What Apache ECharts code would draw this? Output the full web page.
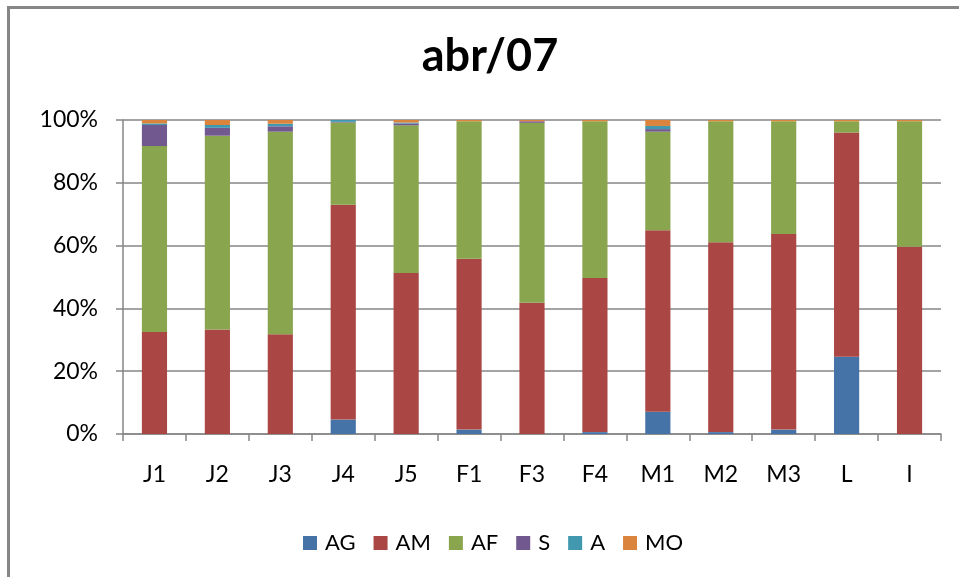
<!DOCTYPE html>
<html>
<head>
<meta charset="utf-8">
<script src="https://cdn.jsdelivr.net/npm/echarts@6/dist/echarts.min.js"></script>
<style>
  html, body { margin: 0; padding: 0; background: #fff; }
  #chart { width: 959px; height: 577px; }
</style>
</head>
<body>
<div id="chart"></div>
<script>
// Monthly composition (percent of total) per sampling point, April 2007
const categories = ['J1', 'J2', 'J3', 'J4', 'J5', 'F1', 'F3', 'F4', 'M1', 'M2', 'M3', 'L', 'I'];
const AG = [0, 0, 0, 4.6, 0, 1.4, 0, 0.6, 7.1, 0.6, 1.4, 24.6, 0];
const AM = [32.5, 33.3, 31.8, 68.4, 51.3, 54.4, 41.8, 49.1, 57.8, 60.5, 62.3, 71.4, 59.6];
const AF = [59.2, 61.7, 64.5, 26.2, 47.0, 43.8, 57.3, 49.9, 31.4, 38.5, 35.9, 3.6, 40.0];
const S  = [6.7, 2.5, 1.7, 0.2, 0.6, 0, 0.5, 0, 0.8, 0, 0, 0, 0];
const A  = [0.5, 0.9, 0.8, 0.6, 0.3, 0, 0, 0, 1.0, 0, 0, 0, 0];
const MO = [1.1, 1.6, 1.2, 0, 0.8, 0.4, 0.4, 0.4, 1.9, 0.4, 0.4, 0.4, 0.4];

const seriesDefs = [
  { name: 'AG', data: AG, color: '#4572A7' },
  { name: 'AM', data: AM, color: '#AA4643' },
  { name: 'AF', data: AF, color: '#89A54E' },
  { name: 'S',  data: S,  color: '#71588F' },
  { name: 'A',  data: A,  color: '#4198AF' },
  { name: 'MO', data: MO, color: '#DB843D' }
];

const FONT = 'Lato, "Liberation Sans", sans-serif';
const AXIS_GREY = '#868686';

const chart = echarts.init(document.getElementById('chart'), null, { renderer: 'canvas' });

chart.setOption({
  animation: false,
  backgroundColor: '#ffffff',
  title: {
    text: 'abr/07',
    left: 485,
    textAlign: 'center',
    top: 29,
    textStyle: { fontFamily: FONT, fontSize: 45, fontWeight: 'bold', color: '#000' }
  },
  graphic: [{
    type: 'rect',
    shape: { x: 8.5, y: 7.5, width: 960, height: 580 },
    style: { fill: 'none', stroke: AXIS_GREY, lineWidth: 3 },
    silent: true
  }],
  legend: {
    bottom: 18,
    left: 298,
    itemWidth: 14,
    itemHeight: 14,
    itemGap: 18,
    icon: 'rect',
    textStyle: { fontFamily: FONT, fontSize: 22, color: '#000', padding: [0, 0, 0, 3] },
    data: seriesDefs.map(s => s.name)
  },
  grid: { left: 123, right: 18, top: 120, bottom: 143, containLabel: false },
  xAxis: {
    type: 'category',
    data: categories,
    axisLine: { lineStyle: { color: AXIS_GREY, width: 1.5 } },
    axisTick: { show: true, length: 7, alignWithLabel: false, lineStyle: { color: AXIS_GREY, width: 1.5 } },
    axisLabel: { fontFamily: FONT, fontSize: 23, color: '#000', margin: 29 }
  },
  yAxis: {
    type: 'value',
    min: 0,
    max: 100,
    interval: 20,
    axisLine: { show: true, lineStyle: { color: AXIS_GREY, width: 1.5 } },
    axisTick: { show: true, length: 7, lineStyle: { color: AXIS_GREY, width: 1.5 } },
    axisLabel: { fontFamily: FONT, fontSize: 23, color: '#000', margin: 25, formatter: '{value}%' },
    splitLine: { show: true, lineStyle: { color: AXIS_GREY, width: 1.5 } }
  },
  series: seriesDefs.map(s => ({
    name: s.name,
    type: 'bar',
    stack: 'total',
    barWidth: '40%',
    data: s.data,
    itemStyle: { color: s.color, borderWidth: 0 }
  }))
});
</script>
</body>
</html>
